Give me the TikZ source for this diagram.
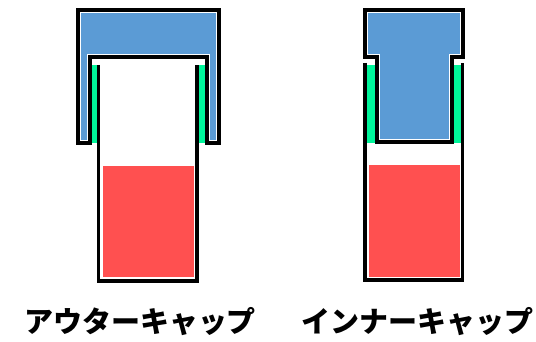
\documentclass[tikz,border=0pt]{standalone}
\usepackage{fontspec}
\newfontfamily\jpfont{Noto Sans CJK JP}
\usetikzlibrary{positioning}

\definecolor{capblue}{HTML}{5B9BD5}
\definecolor{sealgreen}{HTML}{00F59A}
\definecolor{liquidred}{HTML}{FF5050}

\begin{document}
\begin{tikzpicture}[x=1pt,y=-1pt,
  wall/.style={draw=black,line width=3.5pt,line join=miter},
  capbody/.style={fill=capblue,draw=white,line width=6pt,line join=miter},
  seal/.style={fill=sealgreen},
  liquid/.style={fill=liquidred},
  caption/.style={font=\jpfont\bfseries\fontsize{29}{29}\selectfont}
  ]
  \useasboundingbox (0,0) rectangle (536,342);

  % outer cap over the vial
  \fill[liquid] (103,166) rectangle (194,277);
  \path[capbody] (78,143) -- (78,10) -- (219,10) -- (219,143) -- (207,143)
    -- (207,57) -- (90,57) -- (90,143) -- cycle;
  \fill[seal] (91,65) rectangle (98.5,143);
  \fill[seal] (197,65) rectangle (206,143);
  \draw[wall] (98.5,65) -- (98.5,281) -- (197,281) -- (197,65);
  \draw[wall] (78,143) -- (78,10) -- (219,10) -- (219,143) -- (207,143)
    -- (207,57) -- (90,57) -- (90,143) -- cycle;

  % inner cap in the vial
  \fill[liquid] (369,165) rectangle (460,277);
  \path[capbody] (365,10) -- (463,10) -- (463,57) -- (452,57) -- (452,142)
    -- (377,142) -- (377,57) -- (365,57) -- cycle;
  \fill[seal] (366,65) rectangle (376,143);
  \fill[seal] (453,65) rectangle (461,143);
  \draw[wall] (365,63) -- (365,280) -- (462.5,280) -- (462.5,63);
  \draw[wall] (365,10) -- (463,10) -- (463,57) -- (452,57) -- (452,142)
    -- (377,142) -- (377,57) -- (365,57) -- cycle;

  \node (outercap) [caption] at (140,322) {アウターキャップ};
  \node (innercap) [caption] at (417,322) {インナーキャップ};
\end{tikzpicture}
\end{document}
